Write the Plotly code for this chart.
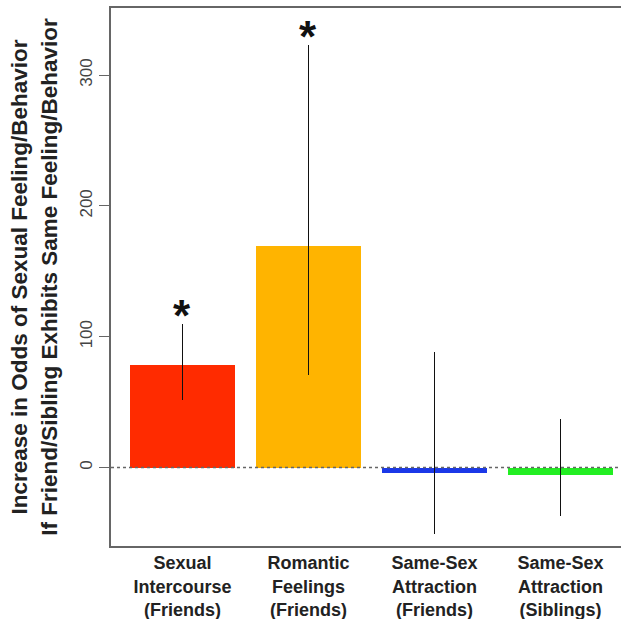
import plotly.graph_objects as go

categories = ["Sexual<br>Intercourse<br>(Friends)", "Romantic<br>Feelings<br>(Friends)",
              "Same-Sex<br>Attraction<br>(Friends)", "Same-Sex<br>Attraction<br>(Siblings)"]
values = [78, 169, -4, -6]
ci_lower = [52, 71, -51, -37]
ci_upper = [110, 323, 88, 37]
significant = [True, True, False, False]
colors = ["#FF2B00", "#FFB400", "#1B38E8", "#22EE22"]
y_ticks = [0, 100, 200, 300]

err_plus = [u - v for u, v in zip(ci_upper, values)]
err_minus = [v - l for v, l in zip(values, ci_lower)]

fig = go.Figure()
fig.add_trace(go.Bar(
    x=categories, y=values, width=0.833,
    marker=dict(color=colors, line=dict(width=0)),
    error_y=dict(type="data", symmetric=False, array=err_plus, arrayminus=err_minus,
                 color="#111111", thickness=1.2, width=0),
    showlegend=False,
))

# dotted zero line
fig.add_shape(type="line", xref="paper", x0=0, x1=1, yref="y", y0=0, y1=0,
              line=dict(color="#666666", width=1.6, dash="dot"))

for c, u, s in zip(categories, ci_upper, significant):
    if s:
        fig.add_annotation(x=c, y=u, text="<b>*</b>", showarrow=False,
                           yanchor="bottom", yshift=-18,
                           font=dict(family="Liberation Sans, Arial", size=44, color="#111111"))

fig.update_layout(
    width=621, height=619,
    margin=dict(l=111, r=0, t=8, b=73),
    plot_bgcolor="white", paper_bgcolor="white",
    font=dict(family="Liberation Sans, Arial, sans-serif", color="#222222"),
    bargap=0,
)
fig.update_xaxes(
    range=[-0.567, 3.48], showline=True, mirror=True, linecolor="#666666", linewidth=1.5,
    ticks="", showgrid=False,
    tickfont=dict(size=18, color="#222222", family="Liberation Sans, Arial"),
    tickprefix="<b>", ticksuffix="</b>",
)
fig.update_yaxes(
    range=[-60, 351.3], showline=True, mirror=False, linecolor="#666666", linewidth=1.5,
    ticks="outside", ticklen=10, tickcolor="#666666", tickwidth=1.2,
    tickvals=y_ticks, tickangle=-90, showgrid=False, zeroline=False,
    tickfont=dict(size=17, color="#444444"),
    title=dict(text="<b>Increase in Odds of Sexual Feeling/Behavior<br>If Friend/Sibling Exhibits Same Feeling/Behavior</b>",
               font=dict(size=22.5, color="#222222"), standoff=14),
)

fig.write_html("out.html", config={"displayModeBar": False},
               post_script="document.body.style.margin='0';document.body.style.overflow='hidden';")
